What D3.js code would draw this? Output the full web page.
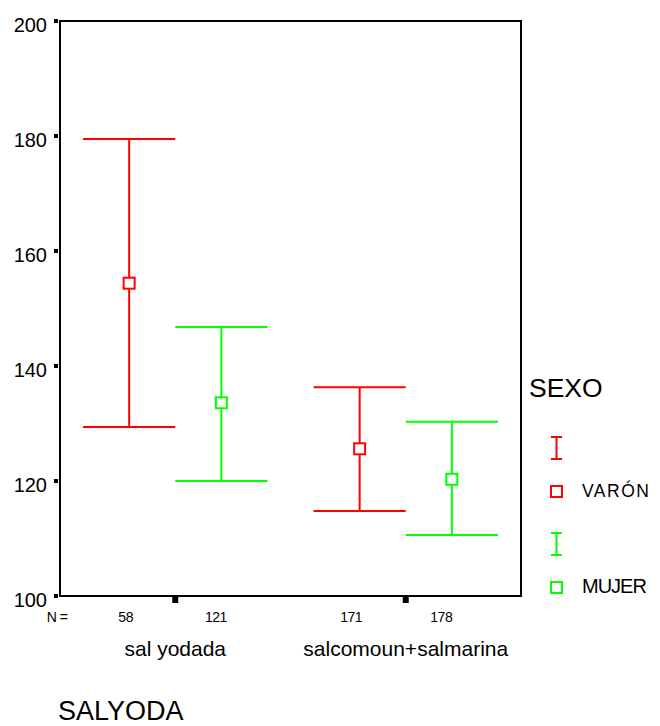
<!DOCTYPE html>
<html>
<head>
<meta charset="utf-8">
<script src="https://cdn.jsdelivr.net/npm/d3@7"></script>
<style>
body { margin: 0; background: #fff; }
text { font-family: "Liberation Sans", Arial, sans-serif; fill: #000; }
</style>
</head>
<body>
<script>
var w = 660,
    h = 726;

// data
var categories = ["sal yodada", "salcomoun+salmarina"];
var groups = ["VARÓN", "MUJER"];
var colors = ["#ff0000", "#00ff00"];
// mean and 95% CI, per category, for each sex
var varonMean = [154.4, 125.6];
var varonLow = [129.4, 114.8];
var varonHigh = [179.5, 136.3];
var mujerMean = [133.6, 120.3];
var mujerLow = [120.0, 110.6];
var mujerHigh = [146.8, 130.3];
var counts = [[58, 121], [171, 178]];
var yTicks = [100, 120, 140, 160, 180, 200];

var rows = [];
categories.forEach(function (c, i) {
    rows.push({cat: c, g: 0, mean: varonMean[i], lo: varonLow[i], hi: varonHigh[i], n: counts[i][0]});
    rows.push({cat: c, g: 1, mean: mujerMean[i], lo: mujerLow[i], hi: mujerHigh[i], n: counts[i][1]});
});

var pLeft = 60, pRight = 521, pTop = 21, pBottom = 596;

var svg = d3.select("body")
    .append("svg")
    .attr("width", w)
    .attr("height", h);

var x = d3.scaleBand()
    .domain(categories)
    .range([pLeft, pRight]);

var xs = d3.scaleBand()
    .domain([0, 1])
    .range([0, x.bandwidth()])
    .paddingOuter(0.25);

var y = d3.scaleLinear()
    .domain([100, 200])
    .range([pBottom, pTop]);

function cx(d) {
    return x(d.cat) + xs(d.g) + xs.bandwidth() / 2;
}

// frame
svg.append("rect")
    .attr("x", pLeft)
    .attr("y", pTop)
    .attr("width", pRight - pLeft)
    .attr("height", pBottom - pTop)
    .attr("fill", "none")
    .attr("stroke", "#000")
    .attr("stroke-width", 2);

// y axis ticks
var yAxis = svg.append("g");
yAxis.selectAll("rect")
    .data(yTicks)
    .enter()
    .append("rect")
    .attr("x", pLeft - 6)
    .attr("y", function (d) { return y(d) - 2; })
    .attr("width", 4)
    .attr("height", 4)
    .attr("fill", "#000");
yAxis.selectAll("text")
    .data(yTicks)
    .enter()
    .append("text")
    .attr("x", pLeft - 13)
    .attr("y", function (d) { return y(d) + 11; })
    .attr("text-anchor", "end")
    .attr("font-size", 20)
    .text(function (d) { return d; });

// x axis ticks
svg.selectAll(".xtick")
    .data(categories)
    .enter()
    .append("rect")
    .attr("class", "xtick")
    .attr("x", function (d) { return x(d) + x.bandwidth() / 2 - 3; })
    .attr("y", pBottom + 1)
    .attr("width", 6)
    .attr("height", 6)
    .attr("fill", "#000");

svg.selectAll(".xlab")
    .data(categories)
    .enter()
    .append("text")
    .attr("class", "xlab")
    .attr("x", function (d) { return x(d) + x.bandwidth() / 2; })
    .attr("y", 656)
    .attr("text-anchor", "middle")
    .attr("font-size", 21)
    .text(function (d) { return d; });

// N counts
svg.append("text")
    .attr("x", 57)
    .attr("y", 622)
    .attr("text-anchor", "middle")
    .attr("font-size", 14)
    .attr("letter-spacing", -0.5)
    .text("N =");

var first = rows[0];
svg.selectAll(".nlab")
    .data(rows)
    .enter()
    .append("text")
    .attr("class", "nlab")
    .attr("x", function (d) { return cx(first) - 3.5 + 0.978 * (cx(d) - cx(first)); })
    .attr("y", 622)
    .attr("text-anchor", "middle")
    .attr("font-size", 14)
    .attr("letter-spacing", -0.5)
    .text(function (d) { return d.n; });

svg.append("text")
    .attr("x", 58)
    .attr("y", 720)
    .attr("font-size", 27)
    .text("SALYODA");

// error bars
var bars = svg.selectAll(".bar")
    .data(rows)
    .enter()
    .append("g")
    .attr("class", "bar")
    .attr("stroke", function (d) { return colors[d.g]; })
    .attr("stroke-width", 2)
    .attr("fill", "none");

bars.append("line")
    .attr("x1", cx)
    .attr("x2", cx)
    .attr("y1", function (d) { return y(d.hi); })
    .attr("y2", function (d) { return y(d.mean) - 6; });
bars.append("line")
    .attr("x1", cx)
    .attr("x2", cx)
    .attr("y1", function (d) { return y(d.mean) + 6; })
    .attr("y2", function (d) { return y(d.lo); });
bars.append("line")
    .attr("x1", function (d) { return cx(d) - xs.bandwidth() / 2; })
    .attr("x2", function (d) { return cx(d) + xs.bandwidth() / 2; })
    .attr("y1", function (d) { return y(d.hi); })
    .attr("y2", function (d) { return y(d.hi); });
bars.append("line")
    .attr("x1", function (d) { return cx(d) - xs.bandwidth() / 2; })
    .attr("x2", function (d) { return cx(d) + xs.bandwidth() / 2; })
    .attr("y1", function (d) { return y(d.lo); })
    .attr("y2", function (d) { return y(d.lo); });
bars.append("rect")
    .attr("x", function (d) { return cx(d) - 5.5; })
    .attr("y", function (d) { return y(d.mean) - 5.5; })
    .attr("width", 11)
    .attr("height", 11);

// legend
var legend = svg.append("g");
legend.append("text")
    .attr("x", 529)
    .attr("y", 397)
    .attr("font-size", 26.5)
    .text("SEXO");

var items = legend.selectAll(".item")
    .data(groups)
    .enter()
    .append("g")
    .attr("class", "item")
    .attr("transform", function (d, i) { return "translate(0," + (i * 96) + ")"; });

items.append("path")
    .attr("d", "M551,437H562M556.5,437V459M551,459H562")
    .attr("stroke", function (d, i) { return colors[i]; })
    .attr("stroke-width", 2)
    .attr("fill", "none");
items.append("rect")
    .attr("x", 551)
    .attr("y", 486)
    .attr("width", 11)
    .attr("height", 11)
    .attr("stroke", function (d, i) { return colors[i]; })
    .attr("stroke-width", 2)
    .attr("fill", "none");
items.append("text")
    .attr("x", 582)
    .attr("y", 497)
    .attr("font-size", function (d, i) { return i == 0 ? 17.5 : 20; })
    .attr("letter-spacing", function (d, i) { return i == 0 ? 1.5 : -1; })
    .text(function (d) { return d; });
</script>
</body>
</html>
